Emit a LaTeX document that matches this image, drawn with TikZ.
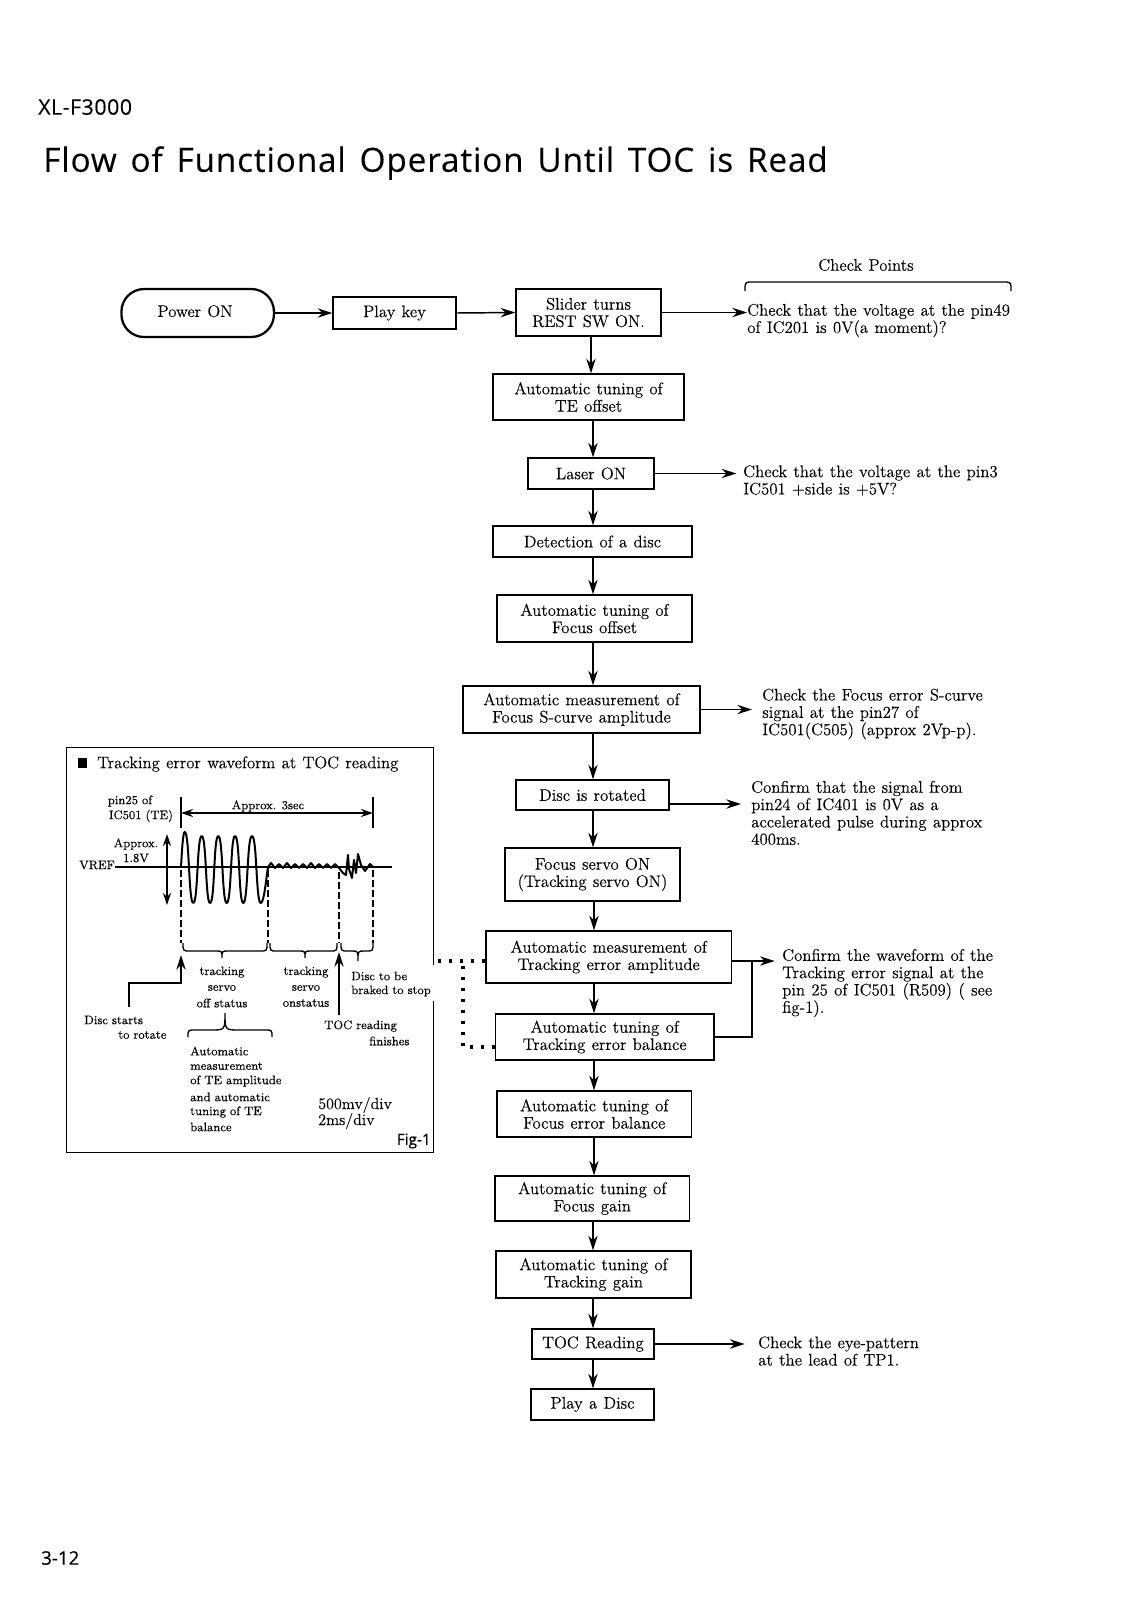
\documentclass[tikz,border=0pt]{standalone}
\usepackage{fontspec}
\setmainfont{Latin Modern Roman}[WordSpace=1.15,FakeBold=0.12]
\newfontfamily\smf{Latin Modern Roman}[WordSpace=0.95,FakeBold=0.25]
\newfontfamily\ttl{Open Sans}[LetterSpace=2.5,WordSpace=1.45,FakeBold=0.15]
\newfontfamily\ttb{Open Sans}[FakeBold=0.4]
\usetikzlibrary{arrows.meta,calc}
\newcommand\mainsz{\fontsize{12.6}{13}\selectfont}
\newcommand\smsz{\smf\fontsize{9.2}{11.5}\selectfont}
\tikzset{
  box/.style={draw=black,line width=1pt,inner sep=0pt,align=center,font=\mainsz},
  txt/.style={anchor=west,inner sep=0pt,align=left,font=\mainsz},
  sm/.style={inner sep=0pt,font=\smsz},
  sml/.style={anchor=west,inner sep=0pt,font=\smsz},
  arr/.style={line width=1.1pt,-{Stealth[length=11pt,width=7pt]}},
  wire/.style={line width=1.1pt},
  dots/.style={line width=2.5pt,dash pattern=on 2.5pt off 5.75pt},
  dbl/.style={line width=1pt,{Stealth[length=9pt,width=6pt]}-{Stealth[length=9pt,width=6pt]}},
  wave/.style={line width=1.5pt,line join=round},
  guide/.style={line width=1.3pt,dash pattern=on 5pt off 2.5pt},
  brace/.style={line width=1pt}
}
\newcommand\bx[6]{%
  \pgfmathsetmacro\cxx{(#2+#3)/2}\pgfmathsetmacro\cyy{(#4+#5)/2}%
  \pgfmathsetmacro\wdd{(#3-#2)*0.75}\pgfmathsetmacro\htt{(#5-#4)*0.75}%
  \node[box,minimum width=\wdd pt,minimum height=\htt pt] (#1) at (\cxx,\cyy) {#6};}
% brace: x1, xm, x2, yend, ybar, ytip, flare
\newcommand\bracepath[7]{\draw[brace] (#1,#4) .. controls (#1,#5) .. ({#1+7},#5) -- ({#2-#7},#5) .. controls (#2,#5) .. (#2,#6) .. controls (#2,#5) .. ({#2+#7},#5) -- ({#3-7},#5) .. controls (#3,#5) .. (#3,#4);}
\begin{document}
\begin{tikzpicture}[x=0.75pt,y=-0.75pt]
\useasboundingbox (0,0) rectangle (1132,1600);
% headings
\node[anchor=west,inner sep=0pt,font=\ttl\fontsize{16}{18}\selectfont] (model) at (38,107) {XL-F3000};
\node[anchor=west,inner sep=0pt,font=\ttl\fontsize{25}{28}\selectfont] (title) at (43,163) {Flow of Functional Operation Until TOC is Read};
\node[anchor=west,inner sep=0pt,font=\ttb\fontsize{14}{16}\selectfont] (page) at (41,1558) {3-12};
% columns and rows
\coordinate (colA) at (591,0);
\coordinate (colB) at (593,0);
\coordinate (colC) at (594,0);
\coordinate (dotcol) at (463,0);
\coordinate (fbcol) at (752,0);
\coordinate (rowD) at (0,804);
\coordinate (rowF) at (0,961);
\coordinate (rowG) at (0,1047);
% flow boxes
\node[box,rounded corners=17pt,line width=1.7pt,minimum width=114.4pt,minimum height=36pt] (power) at (197.7,313) {\raisebox{3pt}{Power ON}\hspace{4pt}};
\bx{play}{333}{456}{297}{329}{\raisebox{-1.5pt}{Play key}}
\bx{slider}{516}{661}{289}{336}{Slider turns\\REST SW ON.}
\bx{teoff}{493}{684}{374}{420}{Automatic tuning of\\TE offset}
\bx{laser}{528}{654}{458}{489}{Laser ON}
\bx{detect}{493}{692}{526}{557}{Detection of a disc}
\bx{focoff}{497}{692}{595}{642}{Automatic tuning of\\Focus offset}
\bx{scurve}{463}{700}{686}{733}{Automatic measurement of\\Focus S-curve amplitude}
\bx{rotate}{516}{669}{780}{810}{Disc is rotated}
\bx{servo}{505}{680}{848}{901}{Focus servo ON\\(Tracking servo ON)}
\bx{amp}{486}{731.5}{931}{983}{Automatic measurement of\\Tracking error amplitude}
\bx{bal}{495.5}{714}{1014}{1060}{Automatic tuning of\\Tracking error balance}
\bx{febal}{497}{691.5}{1091}{1137}{Automatic tuning of\\Focus error balance}
\bx{fgain}{495}{689.5}{1176}{1221}{Automatic tuning of\\Focus gain}
\bx{tgain}{496}{691}{1251}{1298}{Automatic tuning of\\Tracking gain}
\bx{toc}{532}{654}{1329}{1359}{TOC Reading}
\bx{playd}{531}{654}{1389}{1420}{Play a Disc}
% check points
\node[inner sep=0pt,font=\mainsz] (cphead) at (866,265) {Check Points};
\draw[line width=1pt] (745,291) .. controls (745,283) .. (749,282) -- (1007,282) .. controls (1011,283) .. (1011,291);
\node[txt] (c1) at (747,320.5) {Check that the voltage at the pin49\\of IC201 is 0V(a moment)?};
\node[txt] (c2) at (743,480.5) {Check that the voltage at the pin3\\IC501 +side is +5V?};
\node[txt] (c3) at (762,714) {Check the Focus error S-curve\\signal at the pin27 of\\IC501(C505) (approx 2Vp-p).};
\node[txt] (c4) at (751,813) {Confirm that the signal from\\pin24 of IC401 is 0V as a\\accelerated pulse during approx\\400ms.};
\node[txt] (c5) at (782,983) {Confirm the waveform of the\\Tracking error signal at the\\pin 25 of IC501 (R509) ( see\\fig-1).};
\node[txt] (c6) at (758,1351) {Check the eye-pattern\\at the lead of TP1.};
% horizontal connectors
\draw[arr] (power.east) -- (play.west);
\draw[arr] (play.east) -- (slider.west);
\draw[arr] (slider.east) -- (slider.east -| c1.west);
\draw[arr,shorten >=5pt] (laser.east) -- (laser.east -| c2.west);
\draw[arr,shorten >=7.5pt] (scurve.east) -- (scurve.east -| c3.west);
\draw[arr,shorten >=7.5pt] (rotate.east |- rowD) -- (c4.west |- rowD);
\draw[arr,shorten >=5.5pt] (amp.east |- rowF) -- (c5.west |- rowF);
\draw[wire] (bal.east) -- (bal.east -| fbcol) -- (fbcol |- rowF);
\draw[arr,shorten >=10pt] (toc.east) -- (toc.east -| c6.west);
% vertical connectors
\draw[arr] (slider.south -| colA) -- (teoff.north -| colA);
\draw[arr] (teoff.south -| colB) -- (laser.north -| colB);
\draw[arr] (laser.south -| colB) -- (detect.north -| colB);
\draw[arr] (detect.south -| colB) -- (focoff.north -| colB);
\draw[arr] (focoff.south -| colB) -- (scurve.north -| colB);
\draw[arr] (scurve.south -| colB) -- (rotate.north -| colB);
\draw[arr] (rotate.south -| colB) -- (servo.north -| colB);
\draw[arr] (servo.south -| colC) -- (amp.north -| colC);
\draw[arr] (amp.south -| colC) -- (bal.north -| colC);
\draw[arr] (bal.south -| colC) -- (febal.north -| colC);
\draw[arr] (febal.south -| colC) -- (fgain.north -| colC);
\draw[arr] (fgain.south -| colB) -- (tgain.north -| colB);
\draw[arr] (tgain.south -| colB) -- (toc.north -| colB);
\draw[arr] (toc.south -| colB) -- (playd.north -| colB);
% figure frame
\node[inner sep=0pt,minimum width=274.5pt,minimum height=303pt] (fig) at (250,950) {};
\draw[line width=1.1pt] (fig.east |- 0,965) -- (fig.north east) -- (fig.north west) -- (fig.south west) -- (fig.south east) -- (fig.east |- 0,1001);
\draw[dots] (amp.west |- rowF) -- (fig.east |- rowF);
\draw[dots] (bal.west |- rowG) -- (dotcol |- rowG) -- (dotcol |- rowF);
% figure heading
\fill[black] (78,758) rectangle (87,768);
\node[txt] (fighead) at (97,764) {Tracking error waveform at TOC reading};
\node[sm] (pin1) at (130,801) {pin25 of};
\node[sm] (pin2) at (141,816) {IC501 (TE)};
\draw[line width=1pt] (181,797) -- (181,828);
\draw[line width=1pt] (373,797) -- (373,828);
\draw[dbl] (181,813) -- (373,813);
\node[sm] (approx3) at (268,806) {Approx. 3sec};
\node[sm] (approx18) at (136,844) {Approx.};
\node[sm] (v18) at (136,858) {1.8V};
\draw[dbl] (167,834) -- (167,905);
\node[sml] (vref) at (79,865) {VREF};
\draw[line width=1pt] (vref.east |- 0,867) -- (392,867);
% waveform
\draw[wave] (181,867) .. controls (182,850) and (183,832) .. (184.7,832)
 .. controls (189.5,832) and (188.5,903) .. (193.3,903)
 .. controls (198,903) and (197,836) .. (201.7,836)
 .. controls (206.5,836) and (205.5,903) .. (210,903)
 .. controls (215,903) and (213.5,836) .. (218.3,836)
 .. controls (223,836) and (222,903) .. (226.7,903)
 .. controls (231.5,903) and (230.5,836) .. (235,836)
 .. controls (240,836) and (238.5,903) .. (243.3,903)
 .. controls (248,903) and (247,836) .. (252,836)
 .. controls (257,836) and (256,903) .. (260.7,903)
 .. controls (264,903) and (266,880) .. (268,867);
\draw[wave] (268,867) -- (271,863) -- (275,868) -- (279,864) -- (283,868) -- (287,863) -- (291,868) -- (295,864) -- (299,868) -- (303,864) -- (307,868) -- (311,863) -- (315,868) -- (319,864) -- (323,868) -- (327,864) -- (331,868) -- (335,864) -- (339,868)
 -- (343,873) -- (346,875) -- (348,855) -- (349,869) -- (352,878) -- (354,860) -- (356,873) -- (358,854) -- (361,865) -- (365,871) -- (370,864) -- (373,867);
\draw[guide] (181,870) -- (181,943);
\draw[guide] (268,870) -- (268,943);
\draw[guide] (339,872) -- (339,943);
\draw[guide] (373,870) -- (373,943);
% braces
\bracepath{183}{222}{267}{943}{951}{958}{6}
\bracepath{270}{305}{337}{943}{951}{958}{6}
\bracepath{341}{358}{373}{943}{951}{961}{6}
\bracepath{188}{225}{272}{1037}{1030}{1013}{14}
% labels in the figure
\node[sm] (s1) at (222,972) {tracking};
\node[sm] (s2) at (222,988) {servo};
\node[sm] (s3) at (222,1003) {off status};
\node[sm] (s4) at (306,972) {tracking};
\node[sm] (s5) at (306,988) {servo};
\node[sm] (s6) at (306,1003) {onstatus};
\node[sml] (b1) at (351,976) {Disc to be};
\node[sml] (b2) at (351,991) {braked to stop};
\node[sml] (d1) at (84,1020) {Disc starts};
\node[sml] (d2) at (118,1035) {to rotate};
\node[sml] (t1) at (324,1026) {TOC reading};
\node[sml] (t2) at (369,1041) {finishes};
\coordinate (dstart) at (129,1007);
\coordinate (dtip) at (181,955);
\coordinate (ttip) at (339,952);
\draw[arr] (dstart) -- (dstart |- 0,983) -- (dtip |- 0,983) -- (dtip);
\draw[arr,shorten <=4pt] (ttip |- t1.north) -- (ttip);
\node[sml] (a1) at (190,1051) {Automatic};
\node[sml] (a2) at (190,1066) {measurement};
\node[sml] (a3) at (190,1081) {of TE amplitude};
\node[sml] (a4) at (190,1097) {and automatic};
\node[sml] (a5) at (190,1112) {tuning of TE};
\node[sml] (a6) at (190,1127) {balance};
\node[anchor=west,inner sep=0pt,font=\fontsize{12}{13}\selectfont] (r1) at (318,1105) {500mv/div};
\node[anchor=west,inner sep=0pt,font=\fontsize{12}{13}\selectfont] (r2) at (318,1121) {2ms/div};
\node[anchor=east,inner sep=0pt,font=\ttb\fontsize{11.5}{13}\selectfont] (figlab) at (431,1141) {Fig-1};
\end{tikzpicture}
\end{document}
